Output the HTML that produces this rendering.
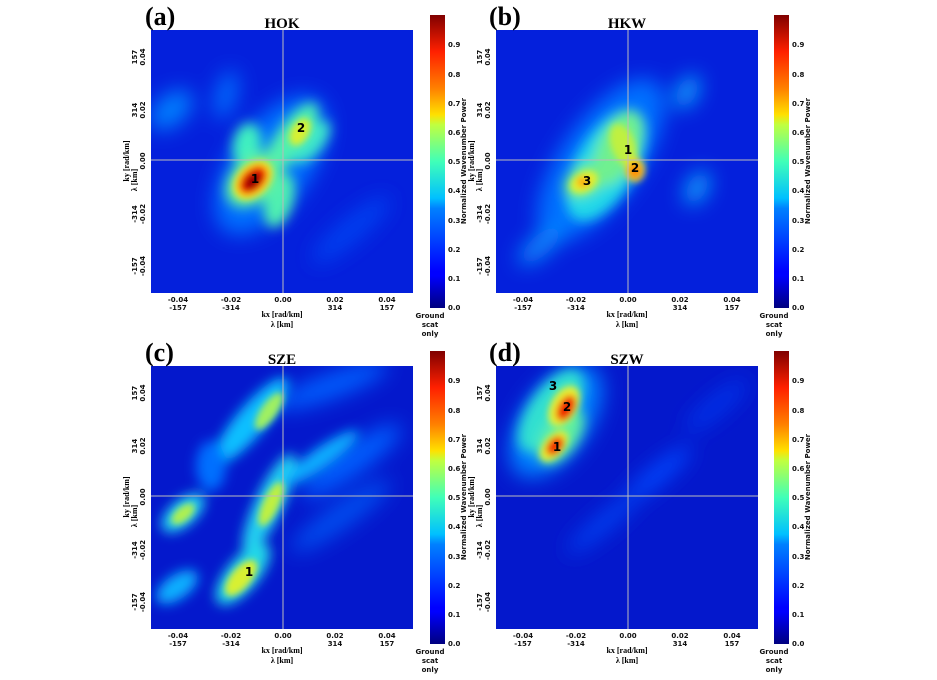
<!DOCTYPE html>
<html><head><meta charset="utf-8"><style>
body{margin:0;background:#fff;}
svg text{font-family:"DejaVu Sans","Liberation Sans",sans-serif;font-weight:bold;}
.t{font-size:7px;fill:#111}
.lab{font-family:"Liberation Serif",serif !important;font-size:26px;font-weight:bold}
.ttl{font-family:"Liberation Serif",serif !important;font-size:15px}
.ax{font-family:"Liberation Serif",serif !important;font-size:8px}
</style></head><body>
<svg width="937" height="675" viewBox="0 0 937 675" xmlns="http://www.w3.org/2000/svg">
<defs>
<linearGradient id="jet" x1="0" y1="1" x2="0" y2="0">
<stop offset="0" stop-color="#00007f"/><stop offset="0.11" stop-color="#0000ff"/>
<stop offset="0.125" stop-color="#0000ff"/><stop offset="0.34" stop-color="#0080ff"/>
<stop offset="0.375" stop-color="#00c0ff"/><stop offset="0.5" stop-color="#40ffb8"/>
<stop offset="0.625" stop-color="#c0ff40"/><stop offset="0.66" stop-color="#ffe000"/>
<stop offset="0.75" stop-color="#ff8000"/><stop offset="0.875" stop-color="#ff2000"/>
<stop offset="1" stop-color="#800000"/></linearGradient>
<filter id="b0" x="-50%" y="-50%" width="200%" height="200%"><feGaussianBlur stdDeviation="10"/></filter>
<filter id="b1" x="-50%" y="-50%" width="200%" height="200%"><feGaussianBlur stdDeviation="6"/></filter>
<filter id="b2" x="-50%" y="-50%" width="200%" height="200%"><feGaussianBlur stdDeviation="3.5"/></filter>
<clipPath id="cp"><rect x="0" y="0" width="262" height="263"/></clipPath>
<g id="cb">
<rect x="0" y="0" width="15" height="293" fill="url(#jet)"/>
<g class="t">
<text x="18" y="295">0.0</text><text x="18" y="266">0.1</text><text x="18" y="237">0.2</text><text x="18" y="208">0.3</text><text x="18" y="178">0.4</text><text x="18" y="149">0.5</text><text x="18" y="120">0.6</text><text x="18" y="91">0.7</text><text x="18" y="62">0.8</text><text x="18" y="32">0.9</text>
</g>
<text class="t" transform="translate(36,146) rotate(-90)" text-anchor="middle">Normalized Wavenumber Power</text>
<text class="t" x="0" y="303" text-anchor="middle">Ground</text>
<text class="t" x="0" y="312" text-anchor="middle">scat</text>
<text class="t" x="0" y="321" text-anchor="middle">only</text>
</g>
<g id="axes">
<g class="t" text-anchor="middle">
<text x="27" y="272">-0.04</text><text x="27" y="280">-157</text>
<text x="80" y="272">-0.02</text><text x="80" y="280">-314</text>
<text x="132" y="272">0.00</text>
<text x="184" y="272">0.02</text><text x="184" y="280">314</text>
<text x="236" y="272">0.04</text><text x="236" y="280">157</text>
</g>
<text class="ax" x="131" y="287" text-anchor="middle" font-weight="bold">kx [rad/km]</text>
<text class="ax" x="131" y="297" text-anchor="middle" font-weight="bold">λ [km]</text>
<g class="t" text-anchor="middle">
<text transform="translate(-6,27) rotate(-90)">0.04</text><text transform="translate(-14,27) rotate(-90)">157</text>
<text transform="translate(-6,80) rotate(-90)">0.02</text><text transform="translate(-14,80) rotate(-90)">314</text>
<text transform="translate(-6,131) rotate(-90)">0.00</text>
<text transform="translate(-6,184) rotate(-90)">-0.02</text><text transform="translate(-14,184) rotate(-90)">-314</text>
<text transform="translate(-6,236) rotate(-90)">-0.04</text><text transform="translate(-14,236) rotate(-90)">-157</text>
</g>
<text class="ax" transform="translate(-22,131) rotate(-90)" text-anchor="middle" font-weight="bold">ky [rad/km]</text>
<text class="ax" transform="translate(-14,150) rotate(-90)" text-anchor="middle" font-weight="bold">λ [km]</text>
</g>
</defs>

<!-- Panel a -->
<g transform="translate(151,30)">
<g clip-path="url(#cp)">
<rect width="262" height="263" fill="#0420dc"/>
<g filter="url(#b0)">
<ellipse cx="20" cy="80" rx="25" ry="15" fill="#0080ff" transform="rotate(-40 20 80)"/>
<ellipse cx="75" cy="65" rx="25" ry="10" fill="#0070ff" transform="rotate(-75 75 65)"/>
<ellipse cx="120" cy="135" rx="80" ry="40" fill="#0070ff" transform="rotate(-55 120 135)"/>
<ellipse cx="200" cy="200" rx="50" ry="12" fill="#0040f0" transform="rotate(-40 200 200)"/>
</g>
<g filter="url(#b1)">
<ellipse cx="96" cy="115" rx="22" ry="14" fill="#40f0c0" transform="rotate(-80 96 115)"/>
<ellipse cx="139" cy="110" rx="44" ry="15" fill="#50f0b0" transform="rotate(-55 139 110)"/>
<ellipse cx="160" cy="112" rx="26" ry="12" fill="#40e8c8" transform="rotate(-50 160 112)"/>
<ellipse cx="128" cy="170" rx="28" ry="14" fill="#50f0b0" transform="rotate(-75 128 170)"/>
<ellipse cx="102" cy="150" rx="32" ry="22" fill="#60f0a0" transform="rotate(-45 102 150)"/>
</g>
<g filter="url(#b2)">
<ellipse cx="149" cy="102" rx="15" ry="9" fill="#d8f030" transform="rotate(-60 149 102)"/>
<ellipse cx="102" cy="150" rx="23" ry="16" fill="#f8e020" transform="rotate(-45 102 150)"/>
<ellipse cx="102" cy="150" rx="17" ry="11" fill="#f02000" transform="rotate(-45 102 150)"/>
<ellipse cx="102" cy="151" rx="10" ry="6" fill="#900000" transform="rotate(-45 102 151)"/>
</g>
<line x1="132" y1="0" x2="132" y2="263" stroke="#bbb" stroke-width="1"/>
<line x1="0" y1="130" x2="262" y2="130" stroke="#bbb" stroke-width="1"/>
</g>
<text x="150" y="102" font-size="12" text-anchor="middle">2</text>
<text x="104" y="153" font-size="12" text-anchor="middle">1</text>
<use href="#axes"/>
</g>
<text class="lab" x="145" y="25">(a)</text>
<text class="ttl" x="282" y="28" text-anchor="middle" font-weight="bold">HOK</text>
<use href="#cb" transform="translate(430,15)"/>

<!-- Panel b -->
<g transform="translate(496,30)">
<g clip-path="url(#cp)">
<rect width="262" height="263" fill="#0420dc"/>
<g filter="url(#b0)">
<ellipse cx="105" cy="130" rx="95" ry="40" fill="#0070ff" transform="rotate(-55 105 130)"/>
<ellipse cx="191" cy="62" rx="18" ry="10" fill="#10a8ff" transform="rotate(-60 191 62)"/>
<ellipse cx="201" cy="158" rx="18" ry="10" fill="#10a8ff" transform="rotate(-60 201 158)"/>
<ellipse cx="45" cy="215" rx="28" ry="10" fill="#1090ff" transform="rotate(-40 45 215)"/>
</g>
<g filter="url(#b1)">
<ellipse cx="110" cy="135" rx="62" ry="30" fill="#20d8e8" transform="rotate(-60 110 135)"/>
<ellipse cx="122" cy="118" rx="40" ry="20" fill="#70f090" transform="rotate(-65 122 118)"/>
<ellipse cx="90" cy="150" rx="24" ry="15" fill="#70f090" transform="rotate(-30 90 150)"/>
</g>
<g filter="url(#b2)">
<ellipse cx="88" cy="152" rx="15" ry="10" fill="#e0f030" transform="rotate(-30 88 152)"/>
<ellipse cx="127" cy="115" rx="12" ry="22" fill="#c0f040" transform="rotate(-20 127 115)"/>
<ellipse cx="139" cy="140" rx="10" ry="12" fill="#f8d020"/>
<ellipse cx="139" cy="141" rx="6" ry="7" fill="#ff8000"/>
<ellipse cx="87" cy="152" rx="6" ry="5" fill="#ffa000"/>
</g>
<line x1="132" y1="0" x2="132" y2="263" stroke="#bbb" stroke-width="1"/>
<line x1="0" y1="130" x2="262" y2="130" stroke="#bbb" stroke-width="1"/>
</g>
<text x="132" y="124" font-size="12" text-anchor="middle">1</text>
<text x="139" y="142" font-size="12" text-anchor="middle">2</text>
<text x="91" y="155" font-size="12" text-anchor="middle">3</text>
<use href="#axes"/>
</g>
<text class="lab" x="489" y="25">(b)</text>
<text class="ttl" x="627" y="28" text-anchor="middle" font-weight="bold">HKW</text>
<use href="#cb" transform="translate(774,15)"/>

<!-- Panel c -->
<g transform="translate(151,366)">
<g clip-path="url(#cp)">
<rect width="262" height="263" fill="#0418cc"/>
<g filter="url(#b0)">
<ellipse cx="200" cy="95" rx="60" ry="14" fill="#0060ff" transform="rotate(-35 200 95)"/>
<ellipse cx="180" cy="20" rx="60" ry="12" fill="#0060ff" transform="rotate(-20 180 20)"/>
<ellipse cx="190" cy="150" rx="60" ry="12" fill="#0050f0" transform="rotate(-35 190 150)"/>
</g>
<g filter="url(#b1)">
<ellipse cx="100" cy="55" rx="55" ry="15" fill="#10c0ff" transform="rotate(-50 100 55)"/>
<ellipse cx="118" cy="138" rx="55" ry="14" fill="#20d0f0" transform="rotate(-65 118 138)"/>
<ellipse cx="92" cy="208" rx="38" ry="16" fill="#20d8e8" transform="rotate(-50 92 208)"/>
<ellipse cx="32" cy="147" rx="26" ry="13" fill="#20d0f0" transform="rotate(-40 32 147)"/>
<ellipse cx="26" cy="221" rx="24" ry="12" fill="#10b0ff" transform="rotate(-35 26 221)"/>
<ellipse cx="170" cy="92" rx="45" ry="10" fill="#10b0ff" transform="rotate(-35 170 92)"/>
<ellipse cx="60" cy="100" rx="15" ry="25" fill="#0070ff"/>
</g>
<g filter="url(#b2)">
<ellipse cx="118" cy="45" rx="22" ry="8" fill="#a0f060" transform="rotate(-55 118 45)"/>
<ellipse cx="120" cy="138" rx="24" ry="8" fill="#c0f040" transform="rotate(-65 120 138)"/>
<ellipse cx="90" cy="212" rx="22" ry="10" fill="#d8f030" transform="rotate(-50 90 212)"/>
<ellipse cx="32" cy="148" rx="14" ry="7" fill="#b0f050" transform="rotate(-40 32 148)"/>
</g>
<line x1="132" y1="0" x2="132" y2="263" stroke="#bbb" stroke-width="1"/>
<line x1="0" y1="130" x2="262" y2="130" stroke="#bbb" stroke-width="1"/>
</g>
<text x="98" y="210" font-size="12" text-anchor="middle">1</text>
<use href="#axes"/>
</g>
<text class="lab" x="145" y="361">(c)</text>
<text class="ttl" x="282" y="364" text-anchor="middle" font-weight="bold">SZE</text>
<use href="#cb" transform="translate(430,351)"/>

<!-- Panel d -->
<g transform="translate(496,366)">
<g clip-path="url(#cp)">
<rect width="262" height="263" fill="#0418cc"/>
<g filter="url(#b0)">
<ellipse cx="160" cy="110" rx="45" ry="9" fill="#0048ff" transform="rotate(-40 160 110)"/>
<ellipse cx="110" cy="155" rx="50" ry="9" fill="#0040f0" transform="rotate(-40 110 155)"/>
<ellipse cx="220" cy="40" rx="40" ry="10" fill="#0030e8" transform="rotate(-40 220 40)"/>
<ellipse cx="60" cy="55" rx="65" ry="34" fill="#0080ff" transform="rotate(-55 60 55)"/>
</g>
<g filter="url(#b1)">
<ellipse cx="55" cy="45" rx="48" ry="22" fill="#30e0d0" transform="rotate(-55 55 45)"/>
<ellipse cx="65" cy="70" rx="32" ry="17" fill="#60f0a0" transform="rotate(-55 65 70)"/>
</g>
<g filter="url(#b2)">
<ellipse cx="68" cy="40" rx="22" ry="13" fill="#e8f030" transform="rotate(-60 68 40)"/>
<ellipse cx="58" cy="80" rx="18" ry="10" fill="#e8f030" transform="rotate(-50 58 80)"/>
<ellipse cx="70" cy="42" rx="14" ry="8" fill="#f02000" transform="rotate(-60 70 42)"/>
<ellipse cx="59" cy="80" rx="11" ry="7" fill="#f02000" transform="rotate(-50 59 80)"/>
</g>
<line x1="132" y1="0" x2="132" y2="263" stroke="#bbb" stroke-width="1"/>
<line x1="0" y1="130" x2="262" y2="130" stroke="#bbb" stroke-width="1"/>
</g>
<text x="57" y="24" font-size="12" text-anchor="middle">3</text>
<text x="71" y="45" font-size="12" text-anchor="middle">2</text>
<text x="61" y="85" font-size="12" text-anchor="middle">1</text>
<use href="#axes"/>
</g>
<text class="lab" x="489" y="361">(d)</text>
<text class="ttl" x="627" y="364" text-anchor="middle" font-weight="bold">SZW</text>
<use href="#cb" transform="translate(774,351)"/>
</svg>
</body></html>
